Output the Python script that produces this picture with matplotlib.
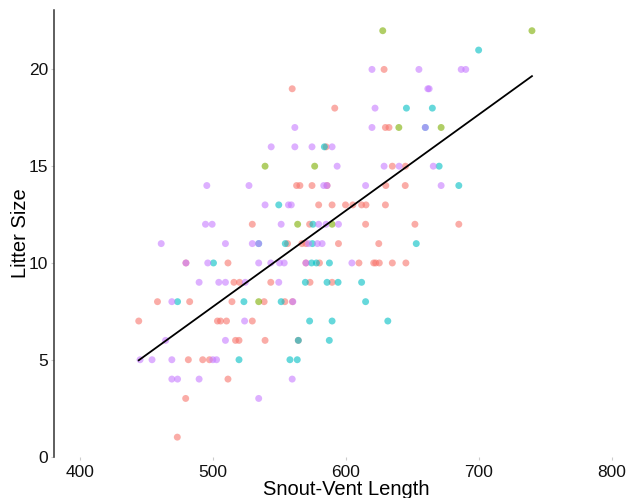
import numpy as np
import matplotlib
matplotlib.use('Agg')
import matplotlib.pyplot as plt

plt.rcParams['font.family'] = ['Liberation Sans', 'DejaVu Sans']

# Snout-vent length / litter size, one pair of lists per group
red_svl = [628.6, 559.5, 591.5, 629.6, 632.3, 585, 634.8, 644.7,
           562.8, 565.3, 574.4, 585.7, 629.9, 644.5,
           579.4, 589.5, 599.6, 605.1, 611.7, 615, 629.6,
           529.5, 572.6, 614.7, 651.8, 684.8,
           556, 566.8, 569.8, 594.3, 624.6,
           479.6, 511.2, 569.8, 580, 609.7, 620.8, 622.3, 625, 634.8, 645,
           515.7, 519.9, 543.4, 572.9, 589.5,
           458.2, 482.4, 514.2, 538.4, 554, 559.7,
           444.1, 503.3, 505.6, 510.1, 529.5,
           516.9, 519.5, 539.1, 564.1,
           481.4, 492.2, 497.3, 511.2, 479.4, 473.1]
red_litter = [20, 19, 18, 17, 17, 16, 15, 15,
              14, 14, 14, 14, 14, 14,
              13, 13, 13, 13, 13, 13, 13,
              12, 12, 12, 12, 12,
              11, 11, 11, 11, 11,
              10, 10, 10, 10, 10, 10, 10, 10, 10, 10,
              9, 9, 9, 9, 9,
              8, 8, 8, 8, 8, 8,
              7, 7, 7, 7, 7,
              6, 6, 6, 6,
              5, 5, 5, 4, 3, 1]

green_svl = [627.6, 739.8, 639.7, 671.5, 539.1, 576.4, 563.6, 589.5, 534.3]
green_litter = [22, 22, 17, 17, 15, 15, 12, 12, 8]

cyan_svl = [699.7, 645.4, 664.9, 659.6, 583.7, 670, 684.8, 549.4, 575.1,
            534.3, 554.3, 574.7, 652.8,
            500.3, 574.1, 577.7, 587.5,
            569.4, 585.7, 594, 611.7,
            473.3, 523.2, 551.2, 614.7,
            572.6, 589.5, 631.4,
            564.1, 587.4,
            519.5, 557.8, 563.3]
cyan_litter = [21, 18, 18, 17, 16, 15, 14, 13, 12,
               11, 11, 11, 11,
               10, 10, 10, 10,
               9, 9, 9, 9,
               8, 8, 8, 8,
               7, 7, 7,
               6, 6,
               5, 5, 5]

purple_svl = [619.5, 654.8, 686.6, 690, 661.5, 662.5, 621.8,
              561.5, 619.5, 659.6,
              543.7, 561.5, 574.4, 589.5,
              593.3, 628.6, 639.9, 665.6,
              495.3, 527, 583.2, 585.7, 614.7, 671.5,
              539.1, 556.7, 558.8,
              494.3, 499.3, 551.2, 579.4, 585, 594.3,
              461, 509.3, 529.5, 534.3, 571.8, 578.5, 582,
              479.6, 496, 534.3, 543.4, 550, 553.5, 569.8, 604.4,
              489.5, 504.3, 509.3, 524.2, 549.4,
              469, 560, 523.7, 464.3, 509.3,
              445.1, 454.1, 469, 499.8, 502.6,
              469, 473.3, 489.5, 559.5, 534.3]
purple_litter = [20, 20, 20, 20, 19, 19, 18,
                 17, 17, 17,
                 16, 16, 16, 16,
                 15, 15, 15, 15,
                 14, 14, 14, 14, 14, 14,
                 13, 13, 13,
                 12, 12, 12, 12, 12, 12,
                 11, 11, 11, 11, 11, 11, 11,
                 10, 10, 10, 10, 10, 10, 10, 10,
                 9, 9, 9, 9, 9,
                 8, 8, 7, 6, 6,
                 5, 5, 5, 5, 5,
                 4, 4, 4, 4, 3]

groups = [(red_svl, red_litter, '#F8766D'),
          (green_svl, green_litter, '#7CAE00'),
          (cyan_svl, cyan_litter, '#00BFC4'),
          (purple_svl, purple_litter, '#C77CFF')]

fig = plt.figure(figsize=(6.29, 4.98), dpi=100)
ax = fig.add_axes([53.5 / 629, 41.5 / 498, 585.1 / 629, 446.5 / 498])

for svl, litter, col in groups:
    ax.scatter(svl, litter, s=25, color=col, alpha=0.6, edgecolors='none', zorder=2)

# linear fit over all points
all_x = np.concatenate([np.array(g[0]) for g in groups])
all_y = np.concatenate([np.array(g[1]) for g in groups])
b, a = np.polyfit(all_x, all_y, 1)
xs = np.array([all_x.min(), all_x.max()])
ax.plot(xs, a + b * xs, color='black', lw=1.3, zorder=3)

ax.set_xlim(380, 820)
ax.set_ylim(0, 23.07)
ax.set_xticks([400, 500, 600, 700, 800])
ax.set_yticks([0, 5, 10, 15, 20])

for s in ['top', 'right', 'bottom']:
    ax.spines[s].set_visible(False)
ax.spines['left'].set_color('#333333')
ax.spines['left'].set_linewidth(1.1)

ax.tick_params(axis='both', length=2, width=0.8, color='#cccccc',
               labelsize=12.5, labelcolor='#111111')
ax.tick_params(axis='x', pad=4)
ax.tick_params(axis='y', pad=2)

ax.set_xlabel('Snout-Vent Length', fontsize=14.5, labelpad=0)
ax.set_ylabel('Litter Size', fontsize=14.5, labelpad=-1)

fig.savefig('out.png', dpi=100)
